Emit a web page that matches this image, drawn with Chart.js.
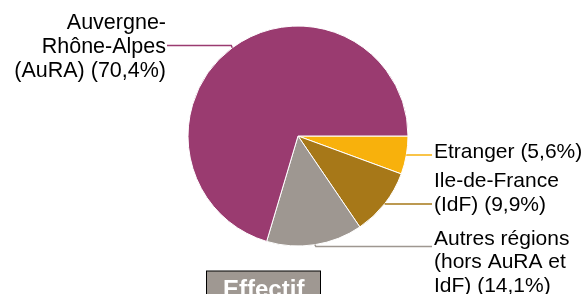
<!DOCTYPE html>
<html>
<head>
<meta charset="utf-8">
<script src="https://cdn.jsdelivr.net/npm/chart.js@4/dist/chart.umd.min.js"></script>
<style>
  html, body { margin: 0; padding: 0; background: #fff; overflow: hidden; }
  #wrap { position: relative; width: 584px; height: 294px; }
</style>
</head>
<body>
<div id="wrap"><canvas id="c" width="584" height="294"></canvas></div>
<script>
// ---- data ----
const categories = ["Etranger", "Ile-de-France (IdF)", "Autres régions (hors AuRA et IdF)", "Auvergne-Rhône-Alpes (AuRA)"];
const values = [5.6, 9.9, 14.1, 70.4];
const labelLines = [
  ["Etranger"],
  ["Ile-de-France", "(IdF)"],
  ["Autres régions", "(hors AuRA et", "IdF)"],
  ["Auvergne-", "Rhône-Alpes", "(AuRA)"]
];
const colors = ["#f8b10c", "#a77818", "#9e9791", "#9a3b70"];
const buttonLabel = "Effectif";

// ---- label layout (positions only) ----
const labelLayout = [
  { side: "right", x: 434, lineEnd: 432, lineY: 155, size: 21, baselines: [158] },
  { side: "right", x: 434, lineEnd: 432, lineY: 204, size: 21, baselines: [186.5, 210.5] },
  { side: "right", x: 434, lineEnd: 432, lineY: 246.5, size: 21, baselines: [244.5, 268.3, 292] },
  { side: "left", x: 166, lineEnd: 167, lineY: 45.5, size: 21.5, baselines: [28.5, 52.5, 76.5] }
];

function pctText(v) { return "(" + v.toFixed(1).replace(".", ",") + "%)"; }

const labelPlugin = {
  id: "pieLabels",
  afterDraw(chart) {
    const ctx = chart.ctx;
    const meta = chart.getDatasetMeta(0);
    ctx.save();
    meta.data.forEach((arc, i) => {
      const p = arc.getProps(["x", "y", "startAngle", "endAngle", "outerRadius"], true);
      const mid = (p.startAngle + p.endAngle) / 2;
      const ax = p.x + Math.cos(mid) * p.outerRadius;
      const ay = p.y + Math.sin(mid) * p.outerRadius;
      const L = labelLayout[i];
      ctx.strokeStyle = colors[i];
      ctx.lineWidth = 1.5;
      ctx.beginPath();
      ctx.moveTo(ax, ay);
      ctx.lineTo(ax + (L.side === "right" ? 1 : -1), L.lineY);
      ctx.lineTo(L.lineEnd, L.lineY);
      ctx.stroke();

      const lines = labelLines[i].slice();
      lines[lines.length - 1] = lines[lines.length - 1] + " " + pctText(values[i]);
      ctx.fillStyle = "#000";
      ctx.font = L.size + "px 'Liberation Sans', Arial, sans-serif";
      ctx.textBaseline = "alphabetic";
      ctx.textAlign = L.side === "right" ? "left" : "right";
      lines.forEach((t, k) => ctx.fillText(t, L.x, L.baselines[k]));
    });

    // button
    ctx.fillStyle = "#9f9892";
    ctx.fillRect(206.5, 271, 114, 40);
    ctx.strokeStyle = "#000";
    ctx.lineWidth = 1;
    ctx.strokeRect(206.5, 271, 114, 40);
    ctx.fillStyle = "#fff";
    ctx.font = "bold 24px 'Liberation Sans', Arial, sans-serif";
    ctx.textAlign = "center";
    ctx.fillText(buttonLabel, 263.7, 297.2);
    ctx.restore();
  }
};

new Chart(document.getElementById("c"), {
  type: "pie",
  data: {
    labels: categories,
    datasets: [{
      data: values,
      backgroundColor: colors,
      borderColor: "#ffffff",
      borderWidth: 1,
      hoverBorderWidth: 1,
      hoverOffset: 0
    }]
  },
  options: {
    responsive: false,
    animation: false,
    events: [],
    rotation: 90,
    layout: { padding: { left: 187.5, right: 175.5, top: 25.5, bottom: 47.5 } },
    plugins: { legend: { display: false }, tooltip: { enabled: false } }
  },
  plugins: [labelPlugin]
});
</script>
</body>
</html>
